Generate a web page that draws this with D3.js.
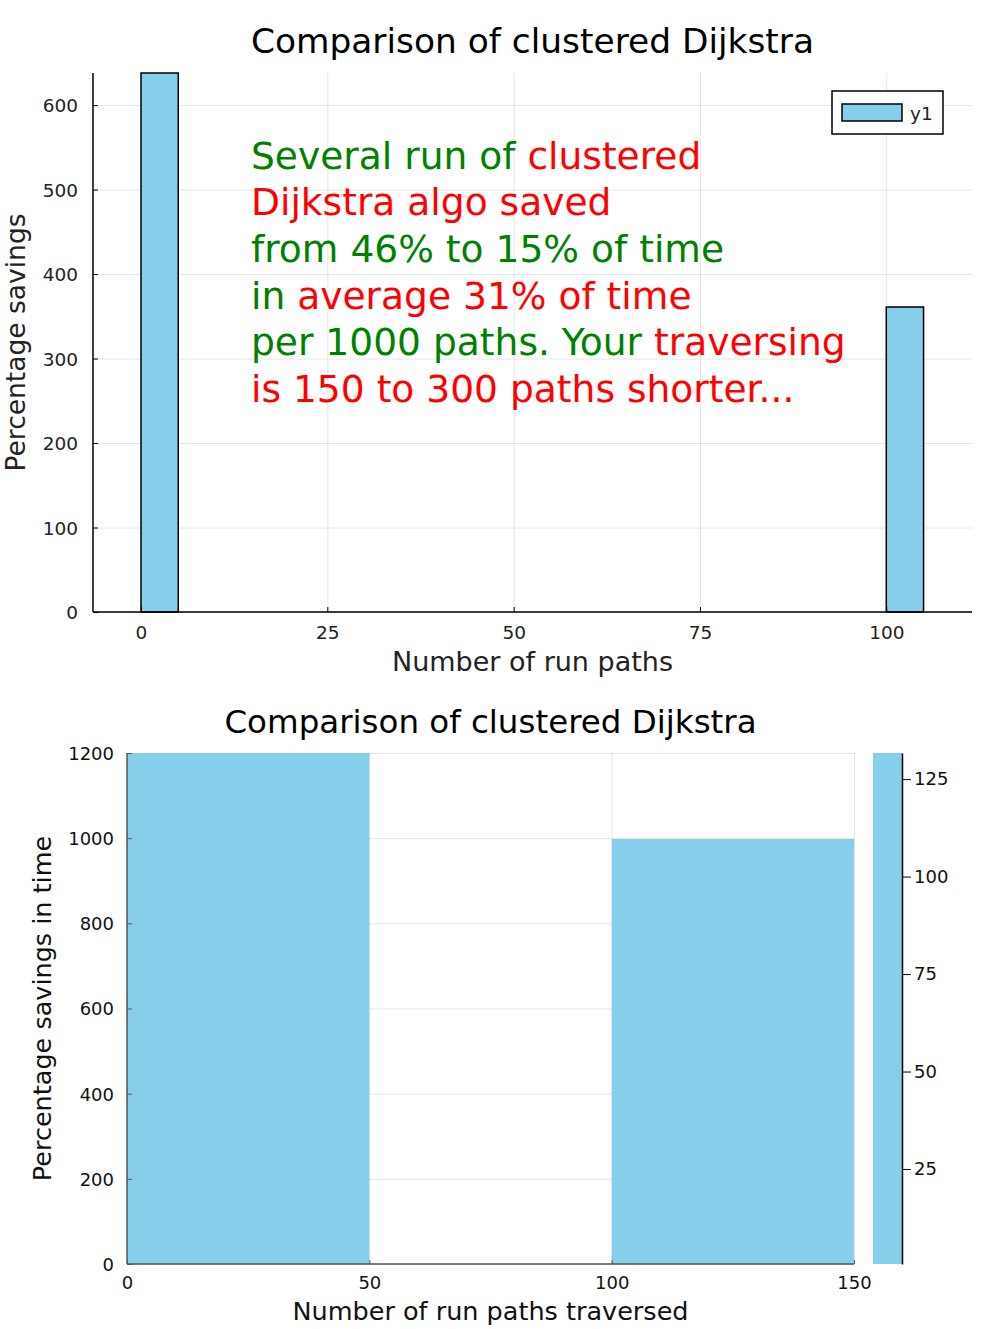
<!DOCTYPE html>
<html>
<head>
<meta charset="utf-8">
<script src="https://cdn.jsdelivr.net/npm/d3@7"></script>
<style>
  body { margin: 0; background: #fff; }
  text { font-family: "DejaVu Sans", sans-serif; fill: #000; }
  .grid line { stroke: #000; stroke-opacity: 0.1; }
  .grid path { display: none; }
</style>
</head>
<body>
<div id="chart"></div>
<script>
//data
const topTitle = 'Comparison of clustered Dijkstra';
const topBinStarts = [0, 100];
const topBinEnds = [5, 105];
const topCounts = [638, 361];
const topXTicks = [0, 25, 50, 75, 100];
const topYTicks = [0, 100, 200, 300, 400, 500, 600];
const topXDomain = [-6.44, 111.5];
const topYDomain = [0, 638];
const legendLabels = ['y1'];

// annotation: each line is a list of [text, colour] pieces
const noteLines = [
    [['Several run of ', 'green'], ['clustered', 'red']],
    [['Dijkstra algo saved', 'red']],
    [['from 46% to 15% of time', 'green']],
    [['in ', 'green'], ['average 31% of time', 'red']],
    [['per 1000 paths. Your ', 'green'], ['traversing', 'red']],
    [['is 150 to 300 paths shorter...', 'red']]
];

const bottomTitle = 'Comparison of clustered Dijkstra';
const bottomBinStarts = [0, 50, 100];
const bottomBinEnds = [50, 100, 150];
const bottomValues = [1200, 0, 998];
const bottomXTicks = [0, 50, 100, 150];
const bottomYTicks = [0, 200, 400, 600, 800, 1000, 1200];
const colorbarTicks = [25, 50, 75, 100, 125];
const colorbarDomain = [0.64, 131.7];

const barColor = '#87ceeb';

const svg = d3.select('#chart')
    .append('svg')
    .attr('width', 991)
    .attr('height', 1329);

// ---------- top chart ----------
const drawTop = () => {
    const left = 93, right = 972, top = 73, bottom = 612;
    const x = d3.scaleLinear().domain(topXDomain).range([left, right]);
    const y = d3.scaleLinear().domain(topYDomain).range([bottom, top]);

    // grid
    svg.append('g')
        .attr('class', 'grid')
        .attr('transform', `translate(0,${bottom})`)
        .call(d3.axisBottom(x).tickValues(topXTicks).tickSize(-(bottom - top)).tickFormat(''));
    svg.append('g')
        .attr('class', 'grid')
        .attr('transform', `translate(${left},0)`)
        .call(d3.axisLeft(y).tickValues(topYTicks).tickSize(-(right - left)).tickFormat(''));

    // bars
    svg.append('g')
        .selectAll('rect')
        .data(topCounts)
        .enter()
        .append('rect')
        .attr('x', (d, i) => x(topBinStarts[i]))
        .attr('width', (d, i) => x(topBinEnds[i]) - x(topBinStarts[i]))
        .attr('y', d => y(d))
        .attr('height', d => y(0) - y(d))
        .style('fill', barColor)
        .style('stroke', '#000')
        .style('stroke-width', 1.5);

    // axes
    const xAxis = svg.append('g')
        .attr('transform', `translate(0,${bottom})`)
        .call(d3.axisTop(x).tickValues(topXTicks).tickSize(5).tickSizeOuter(0).tickFormat(d3.format('d')));
    xAxis.select('.domain').attr('d', `M${left},0H${right}`).style('stroke', '#000').style('stroke-width', 1.5);
    xAxis.selectAll('.tick line').style('stroke', '#000');
    xAxis.selectAll('.tick text')
        .attr('y', 27)
        .style('font-size', '18.5px')
        .style('fill', '#222');

    const yAxis = svg.append('g')
        .attr('transform', `translate(${left},0)`)
        .call(d3.axisRight(y).tickValues(topYTicks).tickSize(5).tickSizeOuter(0));
    yAxis.select('.domain').attr('d', `M0,${top}V${bottom}`).style('stroke', '#000').style('stroke-width', 1.5);
    yAxis.selectAll('.tick line').style('stroke', '#000');
    yAxis.selectAll('.tick text')
        .attr('x', -15)
        .attr('dy', '0.36em')
        .style('text-anchor', 'end')
        .style('font-size', '18.5px')
        .style('fill', '#222');

    // titles
    svg.append('text')
        .attr('x', (left + right) / 2)
        .attr('y', 53)
        .style('text-anchor', 'middle')
        .style('font-size', '34.4px')
        .text(topTitle);
    svg.append('text')
        .attr('x', (left + right) / 2)
        .attr('y', 671)
        .style('text-anchor', 'middle')
        .style('font-size', '27px')
        .style('fill', '#222')
        .text('Number of run paths');
    svg.append('text')
        .attr('transform', `translate(25,${(top + bottom) / 2}) rotate(-90)`)
        .style('text-anchor', 'middle')
        .style('font-size', '26.5px')
        .style('fill', '#222')
        .text('Percentage savings');

    // legend
    const legend = svg.append('g');
    legend.append('rect')
        .attr('x', 832).attr('y', 91).attr('width', 111).attr('height', 43)
        .style('fill', '#fff').style('stroke', '#000').style('stroke-width', 1.5);
    legend.append('rect')
        .attr('x', 842).attr('y', 104).attr('width', 60).attr('height', 17)
        .style('fill', barColor).style('stroke', '#000').style('stroke-width', 1.5);
    legend.append('text')
        .attr('x', 910).attr('y', 120)
        .style('font-size', '18.5px')
        .style('fill', '#222')
        .text(legendLabels[0]);

    // annotation
    const note = svg.append('g');
    noteLines.forEach((line, i) => {
        const t = note.append('text')
            .attr('x', 251)
            .attr('y', 168.5 + i * 46.7)
            .style('font-size', '37.6px');
        line.forEach(part => {
            t.append('tspan').style('fill', part[1]).text(part[0]);
        });
    });
};

// ---------- bottom chart ----------
const drawBottom = () => {
    const left = 127, right = 854, top = 753, bottom = 1264;
    const x = d3.scaleLinear().domain([0, 150]).range([left, right]);
    const y = d3.scaleLinear().domain([0, 1200]).range([bottom, top]);

    svg.append('g')
        .attr('class', 'grid')
        .attr('transform', `translate(0,${bottom})`)
        .call(d3.axisBottom(x).tickValues(bottomXTicks).tickSize(-(bottom - top)).tickFormat(''));
    svg.append('g')
        .attr('class', 'grid')
        .attr('transform', `translate(${left},0)`)
        .call(d3.axisLeft(y).tickValues(bottomYTicks).tickSize(-(right - left)).tickFormat(''));

    svg.append('g')
        .selectAll('rect')
        .data(bottomValues)
        .enter()
        .append('rect')
        .attr('x', (d, i) => x(bottomBinStarts[i]))
        .attr('width', (d, i) => x(bottomBinEnds[i]) - x(bottomBinStarts[i]))
        .attr('y', d => y(d))
        .attr('height', d => y(0) - y(d))
        .style('fill', barColor);

    const xAxis = svg.append('g')
        .attr('transform', `translate(0,${bottom})`)
        .call(d3.axisTop(x).tickValues(bottomXTicks).tickSize(4).tickSizeOuter(0).tickFormat(d3.format('d')));
    xAxis.select('.domain').attr('d', `M${left},0H${right}`).style('stroke', '#555').style('stroke-width', 1.5);
    xAxis.selectAll('.tick line').style('stroke', '#555');
    xAxis.selectAll('.tick text')
        .attr('y', 25)
        .style('font-size', '18px')
        .style('fill', '#111');

    const yAxis = svg.append('g')
        .attr('transform', `translate(${left},0)`)
        .call(d3.axisRight(y).tickValues(bottomYTicks).tickSize(5).tickSizeOuter(0).tickFormat(d3.format('d')));
    yAxis.select('.domain').attr('d', `M0,${top}V${bottom}`).style('stroke', '#555').style('stroke-width', 1.5);
    yAxis.selectAll('.tick line').style('stroke', '#555');
    yAxis.selectAll('.tick text')
        .attr('x', -13)
        .attr('dy', '0.36em')
        .style('text-anchor', 'end')
        .style('font-size', '18px')
        .style('fill', '#111');

    svg.append('text')
        .attr('x', (left + right) / 2)
        .attr('y', 733)
        .style('text-anchor', 'middle')
        .style('font-size', '32.5px')
        .text(bottomTitle);
    svg.append('text')
        .attr('x', (left + right) / 2)
        .attr('y', 1320)
        .style('text-anchor', 'middle')
        .style('font-size', '25.5px')
        .style('fill', '#111')
        .text('Number of run paths traversed');
    svg.append('text')
        .attr('transform', `translate(51,${(top + bottom) / 2}) rotate(-90)`)
        .style('text-anchor', 'middle')
        .style('font-size', '25.5px')
        .style('fill', '#111')
        .text('Percentage savings in time');

    // colorbar
    const cy = d3.scaleLinear().domain(colorbarDomain).range([bottom, top]);
    svg.append('rect')
        .attr('x', 873)
        .attr('y', cy(colorbarDomain[1]))
        .attr('width', 29)
        .attr('height', cy(colorbarDomain[0]) - cy(colorbarDomain[1]))
        .style('fill', barColor);
    const cAxis = svg.append('g')
        .attr('transform', 'translate(902,0)')
        .call(d3.axisRight(cy).tickValues(colorbarTicks).tickSize(9).tickSizeOuter(0));
    cAxis.select('.domain').style('stroke', '#000').style('stroke-width', 1.5);
    cAxis.selectAll('.tick line').style('stroke', '#000');
    cAxis.selectAll('.tick text')
        .attr('x', 12)
        .style('font-size', '18px')
        .style('fill', '#111');
};

drawTop();
drawBottom();
</script>
</body>
</html>
